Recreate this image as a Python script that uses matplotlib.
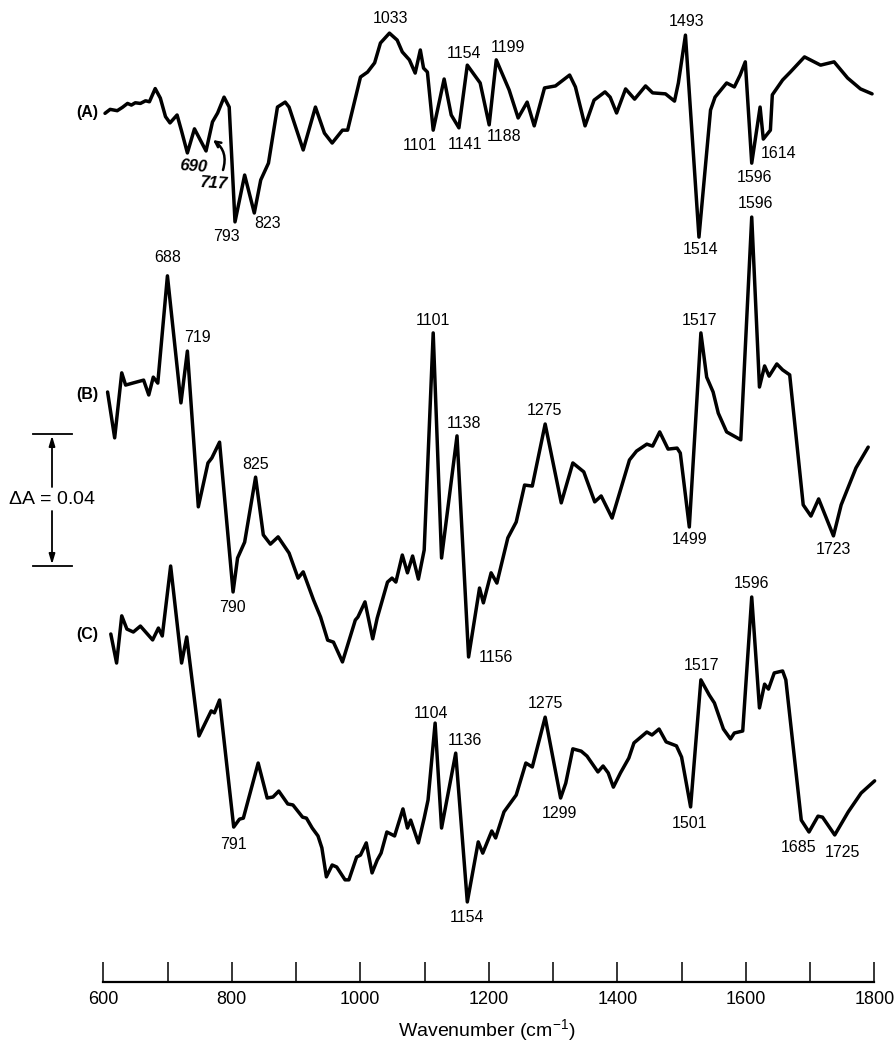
import numpy as np
import matplotlib
matplotlib.use('Agg')
import matplotlib.pyplot as plt
from matplotlib import transforms

plt.rcParams['font.family'] = ['Liberation Sans', 'DejaVu Sans']
plt.rcParams['mathtext.fontset'] = 'custom'
plt.rcParams['mathtext.rm'] = 'Liberation Sans'
plt.rcParams['mathtext.it'] = 'Liberation Sans:italic'
plt.rcParams['mathtext.bf'] = 'Liberation Sans:bold'

# difference spectra, wavenumber (cm-1) vs absorbance change (mA, relative)
wn_a = [591, 599, 610, 618, 626, 632, 638, 646, 654, 660,
        669, 677, 685, 692, 703, 710, 719, 730, 748, 758,
        766, 776, 784, 793, 808, 823, 833, 845, 859, 871,
        877, 899, 918, 932, 944, 960, 968, 988, 999, 1010,
        1019, 1033, 1045, 1053, 1064, 1073, 1081, 1086, 1092, 1101,
        1118, 1129, 1141, 1154, 1174, 1188, 1199, 1219, 1233, 1247,
        1258, 1274, 1291, 1313, 1322, 1337, 1351, 1368, 1376, 1386,
        1400, 1414, 1431, 1442, 1462, 1476, 1482, 1493, 1514, 1532,
        1539, 1557, 1569, 1578, 1586, 1596, 1609, 1614, 1625, 1628,
        1644, 1656, 1678, 1703, 1724, 1745, 1765, 1783]
abs_a = [-0.1, 1.1, 0.7, 1.7, 2.9, 2.4, 3.1, 2.9, 3.7, 3.4,
         7.4, 4.5, -1.1, -3.0, -0.6, -5.5, -12.1, -4.8, -11.5, -2.7,
         0.0, 4.8, 1.8, -33.0, -18.8, -30.3, -20.3, -15.2, 1.8, 3.3,
         1.8, -11.2, 1.8, -6.1, -9.1, -5.2, -5.2, 10.9, 12.4, 15.2,
         21.2, 24.2, 22.1, 18.5, 16.1, 12.1, 19.1, 13.6, 12.4, -5.2,
         10.3, -0.6, -4.5, 14.5, 9.1, -3.6, 16.1, 7.0, -1.5, 3.3,
         -3.9, 7.6, 8.2, 11.5, 7.9, -3.9, 3.9, 6.4, 4.8, 0.0,
         7.3, 4.2, 8.2, 6.1, 5.8, 3.6, 9.1, 23.6, -37.6, 0.9,
         4.8, 9.1, 7.9, 11.5, 15.5, -15.2, 1.8, -7.9, -5.2, 5.5,
         10.0, 12.4, 17.0, 14.5, 15.5, 10.6, 7.3, 5.8]

wn_b = [595, 606, 617, 623, 634, 651, 659, 666, 673, 688,
        709, 719, 736, 751, 757, 769, 790, 797, 808, 825,
        837, 848, 860, 877, 891, 899, 915, 926, 937, 946,
        960, 980, 984, 995, 1007, 1014, 1030, 1037, 1043, 1053,
        1061, 1069, 1078, 1087, 1101, 1114, 1138, 1156, 1173, 1179,
        1191, 1200, 1217, 1230, 1243, 1255, 1275, 1300, 1318, 1335,
        1352, 1362, 1379, 1406, 1417, 1433, 1442, 1453, 1466, 1480,
        1485, 1499, 1517, 1526, 1536, 1544, 1557, 1579, 1596, 1608,
        1616, 1623, 1635, 1644, 1655, 1676, 1688, 1700, 1723, 1735,
        1758, 1777]
abs_b = [0.0, -13.9, 5.8, 2.1, 2.7, 3.6, -0.9, 4.5, 2.7, 35.2,
         -3.3, 12.4, -34.8, -21.5, -20.0, -15.2, -60.6, -50.3, -45.5, -25.8,
         -43.3, -46.1, -43.9, -48.8, -56.4, -54.5, -63.0, -68.2, -75.2, -75.8,
         -81.8, -69.1, -68.2, -63.6, -74.8, -68.5, -57.6, -56.4, -57.6, -49.4,
         -54.8, -49.7, -56.7, -47.9, 17.9, -50.3, -13.3, -80.3, -59.4, -63.9,
         -54.8, -57.9, -44.2, -39.4, -28.2, -28.5, -9.7, -33.6, -21.5, -24.2,
         -33.3, -31.5, -38.2, -20.6, -17.9, -15.8, -16.4, -12.1, -17.3, -17.0,
         -18.5, -40.9, 17.9, 4.5, 0.0, -6.4, -12.1, -14.5, 53.0, 1.5,
         7.9, 4.8, 8.5, 6.7, 5.2, -34.2, -37.6, -32.4, -43.6, -34.2,
         -23.0, -16.7]

wn_c = [600, 609, 617, 625, 635, 646, 665, 674, 680, 693,
        710, 718, 737, 756, 761, 769, 791, 800, 806, 829,
        843, 852, 861, 875, 883, 898, 904, 913, 922, 928,
        935, 944, 951, 964, 970, 982, 988, 997, 1006, 1014,
        1020, 1029, 1041, 1054, 1061, 1066, 1078, 1087, 1093, 1104,
        1114, 1136, 1154, 1171, 1178, 1192, 1198, 1211, 1230, 1245,
        1255, 1275, 1299, 1307, 1318, 1331, 1340, 1357, 1365, 1373,
        1381, 1392, 1405, 1413, 1433, 1441, 1452, 1463, 1479, 1487,
        1501, 1517, 1530, 1538, 1552, 1563, 1569, 1582, 1596, 1608,
        1616, 1622, 1631, 1644, 1649, 1673, 1685, 1699, 1706, 1725,
        1746, 1766, 1787]
abs_c = [0.0, -8.8, 5.5, 1.5, 0.6, 2.4, -1.8, 1.8, -0.6, 20.6,
         -8.8, -0.9, -30.9, -23.3, -23.9, -20.0, -58.5, -56.1, -55.8, -39.1,
         -49.7, -49.4, -47.6, -51.5, -51.8, -55.5, -55.8, -58.8, -61.2, -64.8,
         -73.6, -70.0, -70.6, -74.5, -74.5, -67.6, -67.0, -63.3, -72.4, -68.5,
         -66.4, -60.0, -61.2, -53.0, -58.8, -56.4, -63.3, -55.8, -50.3, -27.0,
         -58.8, -36.1, -81.2, -63.0, -66.4, -59.7, -61.8, -53.9, -48.8, -39.1,
         -40.3, -25.2, -49.7, -45.2, -34.8, -35.5, -37.0, -41.8, -40.0, -42.1,
         -46.4, -42.1, -37.6, -33.0, -29.7, -30.6, -28.8, -32.7, -33.9, -37.3,
         -52.4, -13.9, -18.5, -20.9, -28.8, -31.8, -30.0, -29.4, 11.2, -22.4,
         -15.2, -16.7, -11.8, -11.2, -13.9, -56.4, -60.0, -55.2, -55.5, -60.9,
         -53.9, -48.2, -44.5]

# labelled band positions
peaks_a = [793, 823, 1033, 1101, 1141, 1154, 1188, 1199, 1493, 1514, 1596, 1614]
peaks_b = [688, 719, 790, 825, 1101, 1138, 1156, 1275, 1499, 1517, 1596, 1723]
peaks_c = [791, 1104, 1136, 1154, 1275, 1299, 1501, 1517, 1596, 1685, 1725]
scale_bar = 40.0   # mA  (dA = 0.04)

W, H = 896, 1042
fig = plt.figure(figsize=(W / 100, H / 100), dpi=100, facecolor='white')
ax = fig.add_axes([0, 0, 1, 1])
ax.axis('off')
px_per_wn = 0.6435
px_per_mA = 3.3
x600 = 110.8
ax.set_xlim(600 - x600 / px_per_wn, 600 + (W - x600) / px_per_wn)
ax.set_ylim(-H / px_per_mA, 0)

# vertical stacking of the three traces
offsets = {'A': -113 / px_per_mA, 'B': -392 / px_per_mA, 'C': -634 / px_per_mA}
traces = {'A': (wn_a, abs_a, peaks_a), 'B': (wn_b, abs_b, peaks_b), 'C': (wn_c, abs_c, peaks_c)}

# label offsets in pixels (dx right, dy down)
label_pos = {
    'A': {793: (-9, 15), 823: (13, 11), 1033: (1, -15), 1101: (-13, 15), 1141: (6, 17),
          1154: (-3, -12), 1188: (15, 12), 1199: (12, -12), 1493: (1, -14), 1514: (2, 12),
          1596: (3, 14), 1614: (15, 14)},
    'B': {688: (0, -18), 719: (10, -14), 790: (-1, 16), 825: (0, -13), 1101: (0, -12),
          1138: (7, -12), 1156: (27, 1), 1275: (-1, -14), 1499: (0, 13), 1517: (-1, -12),
          1596: (4, -14), 1723: (0, 14)},
    'C': {791: (0, 17), 1104: (-4, -10), 1136: (9, -13), 1154: (0, 16), 1275: (0, -14),
          1299: (-1, 15), 1501: (-1, 17), 1517: (1, -14), 1596: (0, -14), 1685: (-10, 15),
          1725: (8, 18)},
}

for key, (wn, ab, peaks) in traces.items():
    wn = np.array(wn)
    ab = np.array(ab) + offsets[key]
    ax.plot(wn, ab, color='black', lw=2.5, solid_joinstyle='round', solid_capstyle='round')
    for p in peaks:
        i = int(np.argmin(np.abs(wn - p)))
        dx, dy = label_pos[key][p]
        ax.annotate(str(p), xy=(wn[i], ab[i]), xytext=(dx, -dy), textcoords='offset pixels',
                    ha='center', va='center', fontsize=11.5)

# trace letters
tr = transforms.blended_transform_factory(fig.transFigure, ax.transData)
for key, ypx in (('A', 113), ('B', 395), ('C', 634)):
    ax.text(98 / W, -ypx / px_per_mA, '(%s)' % key, transform=tr, ha='right', va='center',
            fontsize=11.5, fontweight='bold')

# handwritten notes on trace A
ax.text(193 / W, -166 / px_per_mA, '690', transform=tr, ha='center', va='center',
        fontsize=12, fontweight='bold', fontstyle='italic', rotation=-4)
ax.text(214 / W, -183 / px_per_mA, '717', transform=tr, ha='center', va='center',
        fontsize=12, fontweight='bold', fontstyle='italic', rotation=-4)
ax.annotate('', xy=(213 / W, -140 / px_per_mA), xytext=(223 / W, -170 / px_per_mA),
            xycoords=tr, textcoords=tr,
            arrowprops=dict(arrowstyle='->', lw=1.8, color='black',
                            connectionstyle='arc3,rad=0.35', shrinkA=0, shrinkB=0))

# absorbance scale bar
bar_top = -434 / px_per_mA
bar_bot = bar_top - scale_bar
ax.plot([33 / W, 72 / W], [bar_top, bar_top], color='black', lw=1.3, transform=tr)
ax.plot([33 / W, 72 / W], [bar_bot, bar_bot], color='black', lw=1.3, transform=tr)
mid = (bar_top + bar_bot) / 2
ax.text(52 / W, mid, r'$\Delta$A = 0.04', transform=tr, ha='center', va='center', fontsize=14)
arr = dict(arrowstyle='-|>,head_length=0.6,head_width=0.18', lw=1.3, color='black',
           shrinkA=0, shrinkB=0)
ax.annotate('', xy=(52 / W, bar_top - 0.5), xytext=(52 / W, mid + 13 / px_per_mA),
            xycoords=tr, textcoords=tr, arrowprops=arr)
ax.annotate('', xy=(52 / W, bar_bot + 0.5), xytext=(52 / W, mid - 11 / px_per_mA),
            xycoords=tr, textcoords=tr, arrowprops=arr)

# wavenumber scale
axb = fig.add_axes([103.3 / W, (H - 981.7) / H, 771 / W, 0.03])
axb.set_xlim(600, 1800)
axb.set_ylim(0, 1)
axb.patch.set_visible(False)
for s in ('top', 'left', 'right'):
    axb.spines[s].set_visible(False)
axb.spines['bottom'].set_linewidth(1.6)
axb.set_yticks([])
axb.set_xticks(np.arange(600, 1801, 200))
axb.set_xticks(np.arange(700, 1800, 200), minor=True)
axb.tick_params(axis='x', which='both', direction='in', length=14.5, width=1.1,
                labelsize=13, pad=7)
fig.text(487 / W, 1 - 1030 / H, 'Wavenumber (cm$^{-1}$)', ha='center', va='center', fontsize=14)

fig.savefig('out.png', dpi=100, facecolor='white')
